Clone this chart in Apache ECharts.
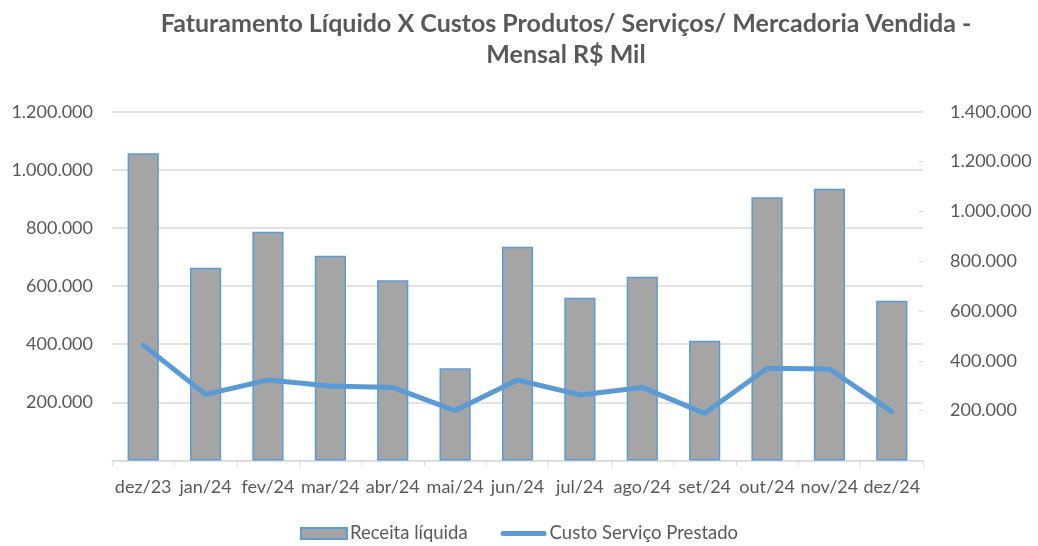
<!DOCTYPE html>
<html>
<head>
<meta charset="utf-8">
<script src="https://cdn.jsdelivr.net/npm/echarts@6/dist/echarts.min.js"></script>
<style>html,body{margin:0;padding:0;background:#fff}#c{width:1038px;height:546px}</style>
</head>
<body>
<div id="c"></div>
<script>
const categories = ['dez/23','jan/24','fev/24','mar/24','abr/24','mai/24','jun/24','jul/24','ago/24','set/24','out/24','nov/24','dez/24'];
const receitaLiquida = [1057000, 663000, 787000, 704000, 620000, 317000, 735000, 560000, 632000, 412000, 906000, 935000, 549000];
const custoServico = [463000, 265000, 323000, 299000, 293000, 200000, 323000, 263000, 293000, 189000, 370000, 367000, 196000];
const leftTicks = [0, 1200000, 200000];   // min, max, interval
const rightTicks = [0, 1400000, 200000];  // min, max, interval

const fmt = v => v === 0 ? '' : v.toString().replace(/\B(?=(\d{3})+(?!\d))/g, '.');
const FONT = 'Lato';
const GREY = '#595959';
const BLUE = '#5B9BD5';

const chart = echarts.init(document.getElementById('c'), null, {renderer: 'canvas'});
chart.setOption({
  animation: false,
  backgroundColor: '#ffffff',
  title: {
    text: 'Faturamento Líquido X Custos Produtos/ Serviços/ Mercadoria Vendida -\nMensal R$ Mil',
    left: 561, top: 3, textAlign: 'center',
    textStyle: {fontFamily: FONT, fontSize: 25, fontWeight: 'bold', color: GREY, lineHeight: 31}
  },
  legend: {
    bottom: -2, left: 'center',
    itemWidth: 46, itemHeight: 11, itemGap: 33,
    textStyle: {fontFamily: FONT, fontSize: 18.5, color: GREY, padding: [0,0,0,-2]},
    data: [
      {name: 'Receita líquida', icon: 'rect'},
      {name: 'Custo Serviço Prestado', icon: 'path://M2.5,0 L43.5,0 A2.5,2.5 0 0 1 43.5,5 L2.5,5 A2.5,2.5 0 0 1 2.5,0 Z'}
    ]
  },
  grid: {left: 112, right: 115, top: 111.7, bottom: 85.6, containLabel: false},
  xAxis: {
    type: 'category', data: categories, boundaryGap: true,
    axisLine: {lineStyle: {color: '#D9D9D9', width: 1}},
    axisTick: {show: true, length: 6, lineStyle: {color: '#D9D9D9'}, alignWithLabel: false},
    axisLabel: {fontFamily: FONT, fontSize: 18, color: GREY, margin: 18, interval: 0}
  },
  yAxis: [{
    type: 'value', min: leftTicks[0], max: leftTicks[1], interval: leftTicks[2],
    axisLine: {show: false}, axisTick: {show: false},
    splitLine: {lineStyle: {color: '#D9D9D9', width: 1.5}},
    axisLabel: {fontFamily: FONT, fontSize: 18, color: GREY, margin: 19, formatter: fmt}
  }, {
    type: 'value', min: rightTicks[0], max: rightTicks[1], interval: rightTicks[2],
    position: 'right',
    axisLine: {show: false},
    axisTick: {show: true, inside: true, length: 4, lineStyle: {color: '#D9D9D9'}},
    splitLine: {show: false},
    axisLabel: {fontFamily: FONT, fontSize: 18, color: GREY, margin: 27, formatter: fmt}
  }],
  series: [{
    name: 'Receita líquida', type: 'bar', data: receitaLiquida, yAxisIndex: 0,
    barWidth: '50%',
    itemStyle: {color: '#A5A5A5', borderColor: BLUE, borderWidth: 1.5}
  }, {
    name: 'Custo Serviço Prestado', type: 'line', data: custoServico, yAxisIndex: 1,
    symbol: 'none', smooth: false,
    lineStyle: {color: BLUE, width: 5, cap: 'round', join: 'round'},
    itemStyle: {color: BLUE}
  }]
});
</script>
</body>
</html>
